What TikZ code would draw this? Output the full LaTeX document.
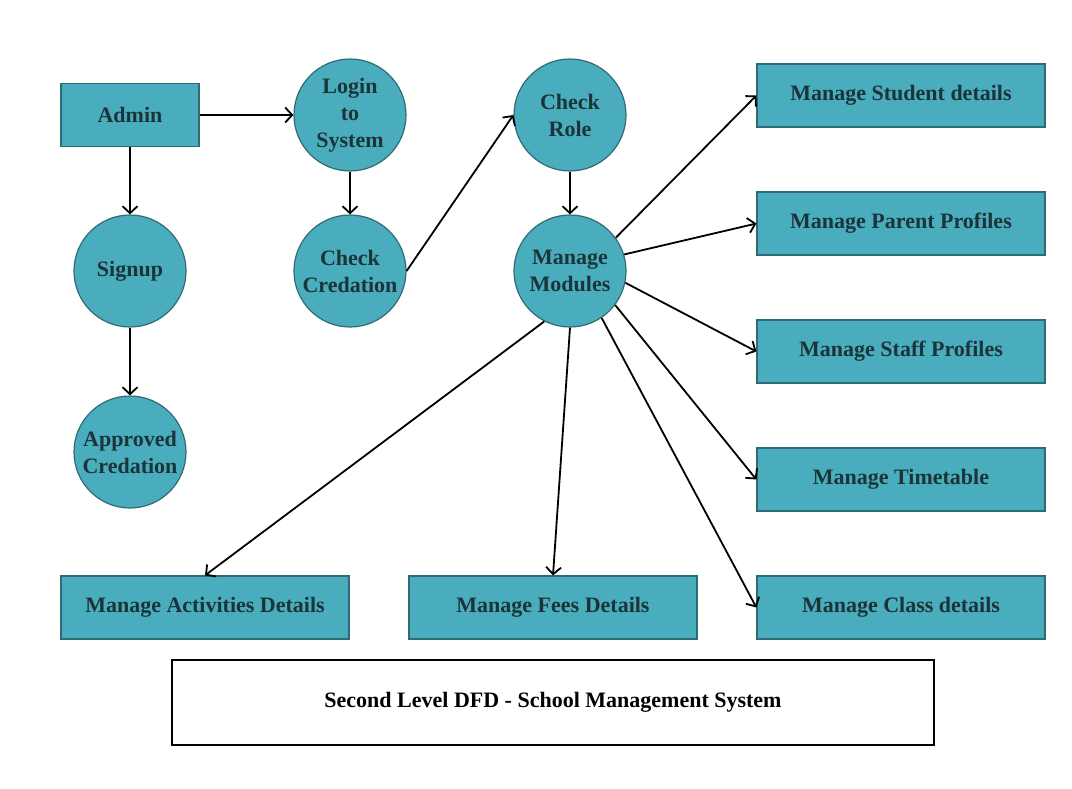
\documentclass[tikz,border=0pt]{standalone}
\usepackage{fontspec}
\setmainfont{Liberation Serif}
\usetikzlibrary{arrows.meta}
\definecolor{dfdfill}{HTML}{4AADBD}
\definecolor{dfdline}{HTML}{2E6B74}
\definecolor{dfdtext}{HTML}{1B3439}
\tikzset{
    entita/.style={draw=dfdline, line width=1.2pt, fill=dfdfill, text=dfdtext, font=\fontsize{22}{27}\selectfont\bfseries, minimum height=63pt, inner sep=0pt},
    processo/.style={circle, draw=dfdline, line width=1.2pt, fill=dfdfill, text=dfdtext, font=\fontsize{22}{27}\selectfont\bfseries, minimum size=112pt, inner sep=0pt, align=center},
    flusso/.style={line width=1.8pt, -{Straight Barb[length=7pt,width=15pt]}}
}
\begin{document}
\begin{tikzpicture}[x=1pt, y=-1pt]
    \useasboundingbox (0,0) rectangle (1072,788);
    %entita esterna
        \node[entita, minimum width=138pt] (admin) at (130,115) {Admin};
    %processi
        \node[processo] (login) at (350,115) {Login\\to\\System};
        \node[processo] (signup) at (130,271) {Signup};
        \node[processo] (approved) at (130,452) {Approved\\Credation};
        \node[processo] (checkcred) at (350,271) {Check\\Credation};
        \node[processo] (checkrole) at (570,115) {Check\\Role};
        \node[processo] (modules) at (570,271) {Manage\\Modules};
    %moduli a destra
        \node[entita, minimum width=288pt] (student) at (901,95.5) {Manage Student details};
        \node[entita, minimum width=288pt] (parent) at (901,223.5) {Manage Parent Profiles};
        \node[entita, minimum width=288pt] (staff) at (901,351.5) {Manage Staff Profiles};
        \node[entita, minimum width=288pt] (timetable) at (901,479.5) {Manage Timetable};
        \node[entita, minimum width=288pt] (class) at (901,607.5) {Manage Class details};
    %moduli in basso
        \node[entita, minimum width=288pt] (activities) at (205,607.5) {Manage Activities Details};
        \node[entita, minimum width=288pt] (fees) at (553,607.5) {Manage Fees Details};
    %titolo
        \node[draw=black, line width=1.5pt, fill=white, minimum width=762pt, minimum height=85pt, font=\fontsize{22}{27}\selectfont\bfseries] (titolo) at (553,702.5) {Second Level DFD - School Management System};
    %flussi
        \draw[flusso] (admin) -- (login);
        \draw[flusso] (admin) -- (signup);
        \draw[flusso] (signup) -- (approved);
        \draw[flusso] (login) -- (checkcred);
        \draw[flusso] (checkcred.east) -- (checkrole.west);
        \draw[flusso] (checkrole) -- (modules);
        %uscite dei moduli
        \draw[flusso] (modules.36) -- (student.west);
        \draw[flusso] (modules.17) -- (parent.west);
        \draw[flusso] (modules.-12) -- (staff.west);
        \draw[flusso] (modules.-37) -- (timetable.west);
        \draw[flusso] (modules.-56) -- (class.west);
        \draw[flusso] (modules.south) -- (fees.north);
        \draw[flusso] (modules.-117) -- (activities.north);
\end{tikzpicture}
\end{document}
